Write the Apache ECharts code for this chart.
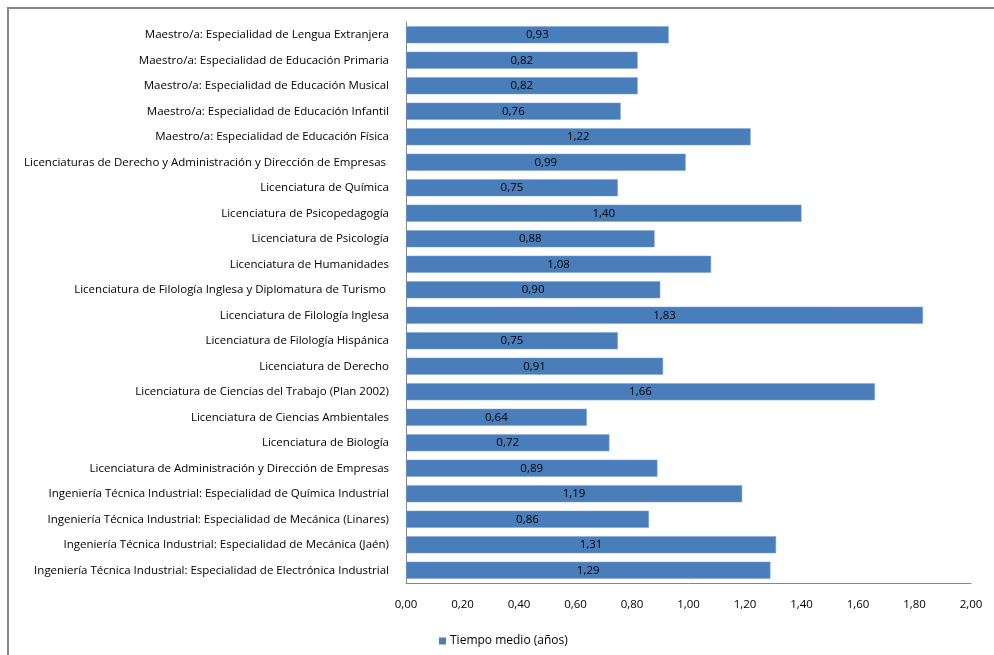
<!DOCTYPE html>
<html>
<head>
<meta charset="utf-8">
<script src="https://cdn.jsdelivr.net/npm/echarts@6/dist/echarts.min.js"></script>
<style>
html,body{margin:0;padding:0;background:#fff;}
#c{width:994px;height:655px;}
</style>
</head>
<body>
<div id="c"></div>
<script>
const categories = [
  "Maestro/a: Especialidad de Lengua Extranjera",
  "Maestro/a: Especialidad de Educación Primaria",
  "Maestro/a: Especialidad de Educación Musical",
  "Maestro/a: Especialidad de Educación Infantil",
  "Maestro/a: Especialidad de Educación Física",
  "Licenciaturas de Derecho y Administración y Dirección de Empresas ",
  "Licenciatura de Química",
  "Licenciatura de Psicopedagogía",
  "Licenciatura de Psicología",
  "Licenciatura de Humanidades",
  "Licenciatura de Filología Inglesa y Diplomatura de Turismo ",
  "Licenciatura de Filología Inglesa",
  "Licenciatura de Filología Hispánica",
  "Licenciatura de Derecho",
  "Licenciatura de Ciencias del Trabajo (Plan 2002)",
  "Licenciatura de Ciencias Ambientales",
  "Licenciatura de Biología",
  "Licenciatura de Administración y Dirección de Empresas",
  "Ingeniería Técnica Industrial: Especialidad de Química Industrial",
  "Ingeniería Técnica Industrial: Especialidad de Mecánica (Linares)",
  "Ingeniería Técnica Industrial: Especialidad de Mecánica (Jaén)",
  "Ingeniería Técnica Industrial: Especialidad de Electrónica Industrial"
];
const tiempoMedio = [0.93, 0.82, 0.82, 0.76, 1.22, 0.99, 0.75, 1.40, 0.88, 1.08, 0.90, 1.83, 0.75, 0.91, 1.66, 0.64, 0.72, 0.89, 1.19, 0.86, 1.31, 1.29];
const seriesName = "Tiempo medio (años)";

const fmt = v => Number(v).toFixed(2).replace('.', ',');
const FONT = "'Open Sans', 'Noto Sans', sans-serif";

const chart = echarts.init(document.getElementById('c'), null, {renderer: 'canvas'});
chart.setOption({
  animation: false,
  backgroundColor: '#fff',
  textStyle: {fontFamily: FONT},
  graphic: [{
    type: 'rect',
    shape: {x: 8, y: 8, width: 1100, height: 800},
    style: {fill: 'none', stroke: '#868686', lineWidth: 2},
    silent: true, z: 100
  }],
  grid: {left: 406, right: 23, top: 22, bottom: 72, containLabel: false},
  legend: {
    data: [seriesName],
    left: 434, top: 630,
    itemWidth: 7, itemHeight: 7, itemGap: 4,
    icon: 'rect',
    itemStyle: {borderWidth: 0},
    textStyle: {fontFamily: FONT, fontSize: 12, color: '#000', padding: [0, 0, 0, -1]}
  },
  xAxis: {
    type: 'value', min: 0, max: 2, interval: 0.2,
    axisLine: {show: true, lineStyle: {color: '#868686', width: 1}},
    axisTick: {show: false},
    splitLine: {show: false},
    axisLabel: {formatter: fmt, margin: 16, color: '#000', fontFamily: FONT, fontSize: 11.5}
  },
  yAxis: {
    type: 'category', data: categories, inverse: true,
    axisLine: {show: true, lineStyle: {color: '#868686', width: 1}},
    axisTick: {show: false},
    axisLabel: {margin: 17, color: '#000', fontFamily: FONT, fontSize: 11.5}
  },
  series: [{
    name: seriesName,
    type: 'bar',
    data: tiempoMedio,
    barCategoryGap: '33%',
    itemStyle: {color: '#4a7ebb', borderColor: '#7ea4d4', borderWidth: 0.5},
    label: {
      show: true, position: 'inside', formatter: p => fmt(p.value),
      color: '#000', fontFamily: FONT, fontSize: 11.5
    }
  }]
});
</script>
</body>
</html>
